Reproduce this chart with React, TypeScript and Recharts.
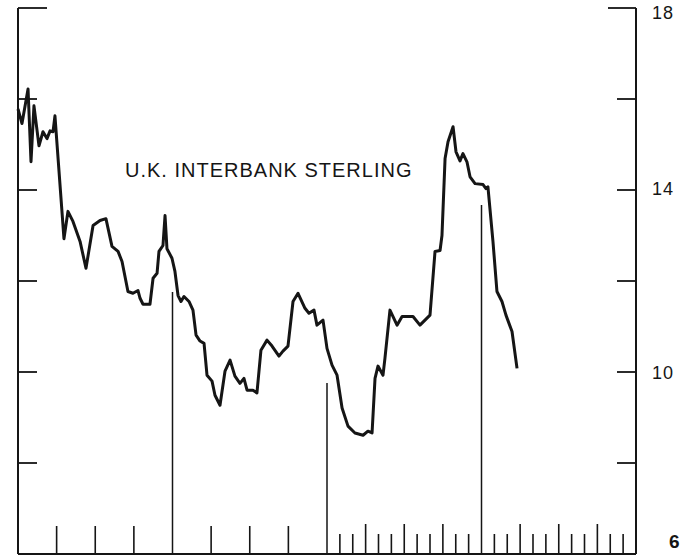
import { LineChart, Line, XAxis, YAxis, ReferenceLine } from 'recharts'

// months since start of the chart (48 months across the axis) and rate in percent
const months = [
  0, 0.31, 0.78, 1.01, 1.24, 1.63, 1.94, 2.25, 2.49, 2.72, 2.87, 3.57, 3.88, 4.27, 4.82, 5.28,
  5.83, 6.37, 6.83, 7.3, 7.77, 8.08, 8.54, 8.93, 9.32, 9.48, 9.71, 10.25, 10.49, 10.8, 10.95,
  11.26, 11.42, 11.57, 11.96, 12.19, 12.43, 12.66, 12.89, 13.28, 13.59, 13.83, 14.14, 14.45,
  14.68, 15.07, 15.3, 15.69, 16.08, 16.47, 16.85, 17.24, 17.55, 17.79, 18.25, 18.56, 18.87,
  19.34, 19.73, 20.27, 20.58, 20.97, 21.36, 21.75, 22.29, 22.6, 22.99, 23.22, 23.69, 24.0,
  24.39, 24.78, 25.17, 25.63, 26.17, 26.8, 27.18, 27.5, 27.73, 27.96, 28.35, 28.5, 28.89,
  29.44, 29.83, 30.68, 31.22, 32.0, 32.39, 32.78, 32.93, 33.17, 33.4, 33.79, 34.02, 34.33,
  34.56, 34.87, 35.11, 35.5, 36.12, 36.35, 36.5, 36.89, 37.2, 37.59, 37.9, 38.37, 38.76,
]

const rates = [
  15.78, 15.46, 16.22, 14.62, 15.85, 14.97, 15.28, 15.13, 15.3, 15.28, 15.63, 12.93, 13.53,
  13.31, 12.87, 12.28, 13.22, 13.33, 13.37, 12.76, 12.65, 12.43, 11.77, 11.73, 11.79, 11.62,
  11.49, 11.49, 12.06, 12.17, 12.65, 12.78, 13.44, 12.71, 12.5, 12.21, 11.68, 11.55, 11.66,
  11.55, 11.36, 10.81, 10.68, 10.63, 9.93, 9.8, 9.49, 9.27, 10.02, 10.26, 9.91, 9.75, 9.86,
  9.6, 9.6, 9.54, 10.48, 10.7, 10.57, 10.35, 10.46, 10.57, 11.55, 11.73, 11.4, 11.29, 11.36,
  11.03, 11.14, 10.52, 10.15, 9.93, 9.21, 8.81, 8.66, 8.61, 8.7, 8.66, 9.86, 10.13, 9.93,
  10.3, 11.36, 11.03, 11.22, 11.22, 11.03, 11.25, 12.65, 12.67, 13.0, 14.69, 15.06, 15.39,
  14.84, 14.64, 14.8, 14.62, 14.29, 14.14, 14.12, 14.03, 14.07, 12.87, 11.77, 11.55, 11.25,
  10.89, 10.08,
]

const monthTicks = [
  3, 6, 9, 15, 18, 21, 25, 26, 27, 28, 29, 30, 31, 32, 33, 34, 35, 37, 38, 39, 40, 41, 42, 43,
  44, 45, 46, 47,
]
const leftTicks = [8, 10, 12, 14, 16, 18]
const rightTicks = [6, 8, 10, 12, 14, 16, 18]
const rightLabels = [18, 14, 10, 6]
const yearMarks = [12, 24, 36]
const yearMarkTops = [11.76, 9.76, 13.67]

const INK = '#151515'
const FONT = '"Liberation Sans", Arial, sans-serif'

// nudges so the scanned labels sit where they do in the original
const labelDy: Record<number, number> = { 18: 11, 14: 5, 10: 7, 6: -6 }

const data = months.map((m, i) => ({ month: m, rate: rates[i] }))

function BottomTick({ x, y, payload }: any) {
  const v = payload.value
  let len = 20
  if (v < 24) len = 28
  else if (v % 3 === 0) len = 30
  return <line x1={x} x2={x} y1={y} y2={y - len} stroke={INK} strokeWidth={1.6} />
}

function LeftTick({ x, y, payload }: any) {
  const len = payload.value === 18 ? 29 : 19
  return <line x1={x} x2={x + len} y1={y} y2={y} stroke={INK} strokeWidth={1.8} />
}

function RightTick({ x, y, payload }: any) {
  const v = payload.value
  const len = v === 18 ? 28 : 19
  const showLabel = rightLabels.includes(v)
  return (
    <g>
      {v !== 6 && <line x1={x - len} x2={x} y1={y} y2={y} stroke={INK} strokeWidth={1.8} />}
      {showLabel && (
        <text
          x={v === 6 ? x + 33 : x + 16}
          y={y + labelDy[v]}
          fill={INK}
          fontSize={v === 6 ? 19 : 18}
          fontWeight={v === 6 ? 700 : 400}
          fontFamily={FONT}
          letterSpacing={1}
        >
          {v}
        </text>
      )}
    </g>
  )
}

export default function App() {
  return (
    <div style={{ position: 'absolute', left: 0, top: 0, width: 685, height: 560, background: '#fff' }}>
      <LineChart width={685} height={560} data={data} margin={{ top: 8, right: 0, bottom: 0, left: 0 }}>
        <XAxis
          dataKey="month"
          type="number"
          domain={[0, 48]}
          ticks={monthTicks}
          interval={0}
          height={6}
          tickSize={0}
          tickMargin={0}
          tickLine={false}
          tick={<BottomTick />}
          axisLine={{ stroke: INK, strokeWidth: 2 }}
        />
        <YAxis
          yAxisId="left"
          orientation="left"
          width={18}
          domain={[6, 18]}
          ticks={leftTicks}
          interval={0}
          tickSize={0}
          tickMargin={0}
          tickLine={false}
          tick={<LeftTick />}
          axisLine={{ stroke: INK, strokeWidth: 2 }}
        />
        <YAxis
          yAxisId="right"
          orientation="right"
          width={49}
          domain={[6, 18]}
          ticks={rightTicks}
          interval={0}
          tickSize={0}
          tickMargin={0}
          tickLine={false}
          tick={<RightTick />}
          axisLine={{ stroke: INK, strokeWidth: 2 }}
        />
        {yearMarks.map((m, i) => (
          <ReferenceLine
            key={m}
            yAxisId="left"
            segment={[
              { x: m, y: yearMarkTops[i] },
              { x: m, y: 6 },
            ]}
            stroke={INK}
            strokeWidth={1.5}
          />
        ))}
        {/* invisible copy so the right-hand axis gets its ticks */}
        <Line
          yAxisId="right"
          type="linear"
          dataKey="rate"
          stroke="none"
          dot={false}
          activeDot={false}
          legendType="none"
          isAnimationActive={false}
        />
        <Line
          yAxisId="left"
          type="linear"
          dataKey="rate"
          stroke={INK}
          strokeWidth={3}
          strokeLinejoin="round"
          dot={false}
          isAnimationActive={false}
        />
      </LineChart>
      <div
        style={{
          position: 'absolute',
          left: 125,
          top: 160,
          fontFamily: FONT,
          fontSize: 20,
          lineHeight: '20px',
          letterSpacing: 1,
          color: INK,
          whiteSpace: 'nowrap',
        }}
      >
        U.K. INTERBANK STERLING
      </div>
    </div>
  )
}
